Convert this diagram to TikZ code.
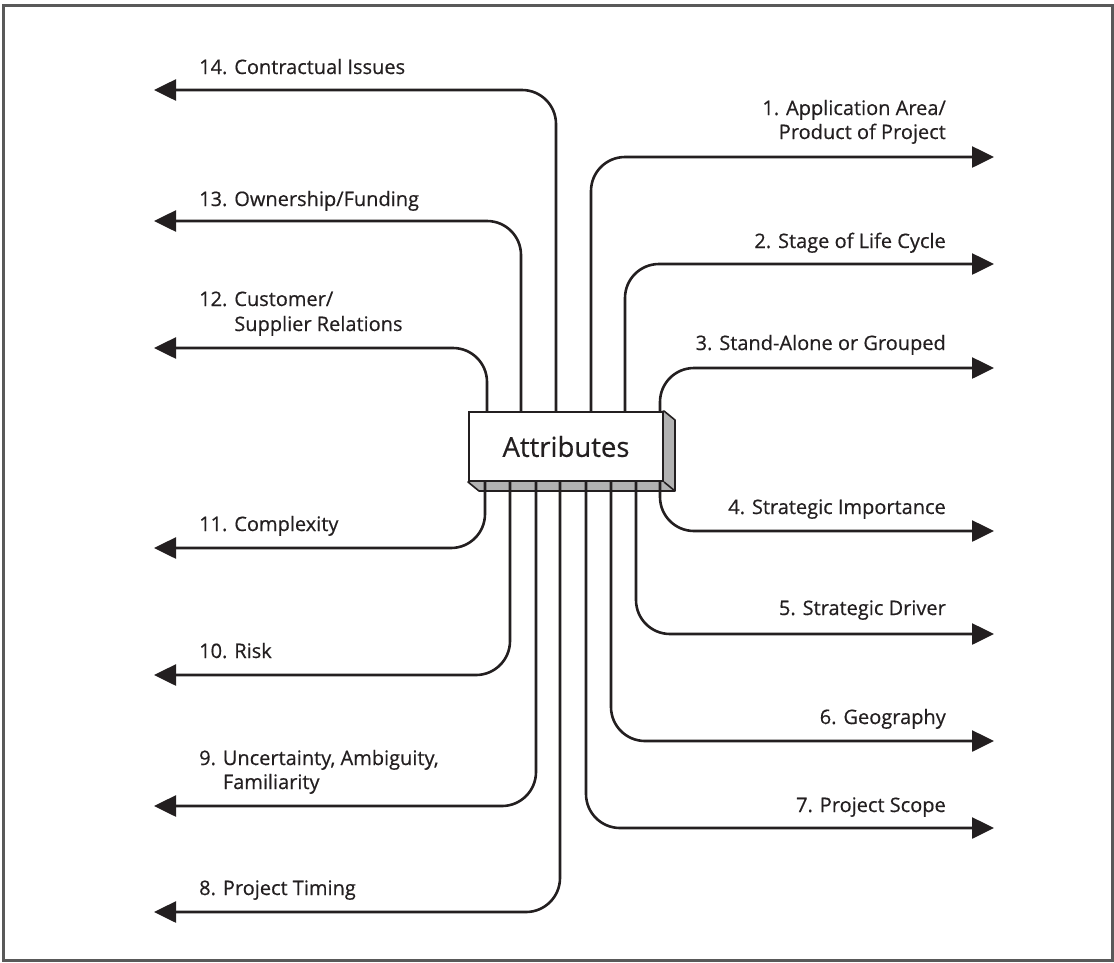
\documentclass[tikz,border=0pt]{standalone}
\usepackage{fontspec}
\setmainfont{Open Sans}
\newfontfamily\lblfont{Open Sans}[FakeBold=0.5]
\usetikzlibrary{arrows.meta,backgrounds,calc}
\definecolor{ink}{HTML}{231F20}

\begin{document}
\begin{tikzpicture}[x=1pt,y=-1pt,
  conn/.style={line width=2.6pt, draw=ink, rounded corners=34pt,
    -{Triangle[length=22pt,width=21pt]}},
  lbl/.style={font=\lblfont\fontsize{20}{24}\selectfont, inner sep=0pt, text=ink},
  lblL/.style={lbl, anchor=base west},
  lblR/.style={lbl, anchor=base east},
  hub/.style={draw=ink, line width=2pt, fill=white, minimum width=194pt,
    minimum height=69pt, inner sep=0pt, font=\lblfont\fontsize{27.5}{30}\selectfont, text=ink}]

\useasboundingbox (0,0) rectangle (1114,962);
\draw[line width=3pt, black!65] (3,5) rectangle (1112,960);

% central box with its extruded side and bottom
\node[hub] (attr) at (566,446.5) {Attributes};
\begin{scope}[on background layer]
  \filldraw[fill=black!30, draw=ink, line width=1.6pt, line join=round]
    (attr.north east) -- ++(11,9) -- ($(attr.south east)+(11,9)$)
    -- ($(attr.south west)+(11,9)$) -- (attr.south west) -- cycle;
  \draw[ink, line width=1.6pt] (attr.south east) -- ++(11,9);
\end{scope}

% arrow ends
\coordinate (t14) at (154,90);
\coordinate (t13) at (154,221);
\coordinate (t12) at (154,348);
\coordinate (t11) at (154,548);
\coordinate (t10) at (154,675);
\coordinate (t9)  at (154,806);
\coordinate (t8)  at (154,912);
\coordinate (t1)  at (994,157);
\coordinate (t2)  at (994,264);
\coordinate (t3)  at (994,368);
\coordinate (t4)  at (994,531);
\coordinate (t5)  at (994,634);
\coordinate (t6)  at (994,741);
\coordinate (t7)  at (994,828);

% connectors leaving the top of the box
\draw[conn] (556,0 |- attr.north) |- (t14);
\draw[conn] (521,0 |- attr.north) |- (t13);
\draw[conn] (487,0 |- attr.north) |- (t12);
\draw[conn] (591,0 |- attr.north) |- (t1);
\draw[conn] (625,0 |- attr.north) |- (t2);
\draw[conn] (660,0 |- attr.north) |- (t3);

% connectors leaving the bottom of the box
\draw[conn] (485,0 |- attr.south) |- (t11);
\draw[conn] (510,0 |- attr.south) |- (t10);
\draw[conn] (536,0 |- attr.south) |- (t9);
\draw[conn] (560,0 |- attr.south) |- (t8);
\draw[conn] (586,0 |- attr.south) |- (t7);
\draw[conn] (611,0 |- attr.south) |- (t6);
\draw[conn] (636,0 |- attr.south) |- (t5);
\draw[conn] (660,0 |- attr.south) |- (t4);

% labels on the left
\node[lblL] (l14) at (199,74) {14. Contractual Issues};
\node[lblL] (l13) at (199,206) {13. Ownership/Funding};
\node[lblL] (l12) at (199,306) {12. Customer/};
\node[lblL] (l12b) at (199,331) {\phantom{12. }Supplier Relations};
\node[lblL] (l11) at (199,531) {11. Complexity};
\node[lblL] (l10) at (199,658) {10. Risk};
\node[lblL] (l9)  at (199,765) {9. Uncertainty, Ambiguity,};
\node[lblL] (l9b) at (199,789) {\phantom{9. }Familiarity};
\node[lblL] (l8)  at (199,895) {8. Project Timing};

% labels on the right
\node[lblR] (l1)  at (946,115) {1. Application Area/};
\node[lblR] (l1b) at (946,139) {Product of Project};
\node[lblR] (l2)  at (946,248) {2. Stage of Life Cycle};
\node[lblR] (l3)  at (946,350) {3. Stand-Alone or Grouped};
\node[lblR] (l4)  at (946,514) {4. Strategic Importance};
\node[lblR] (l5)  at (946,615) {5. Strategic Driver};
\node[lblR] (l6)  at (946,724) {6. Geography};
\node[lblR] (l7)  at (946,812) {7. Project Scope};
\end{tikzpicture}
\end{document}
